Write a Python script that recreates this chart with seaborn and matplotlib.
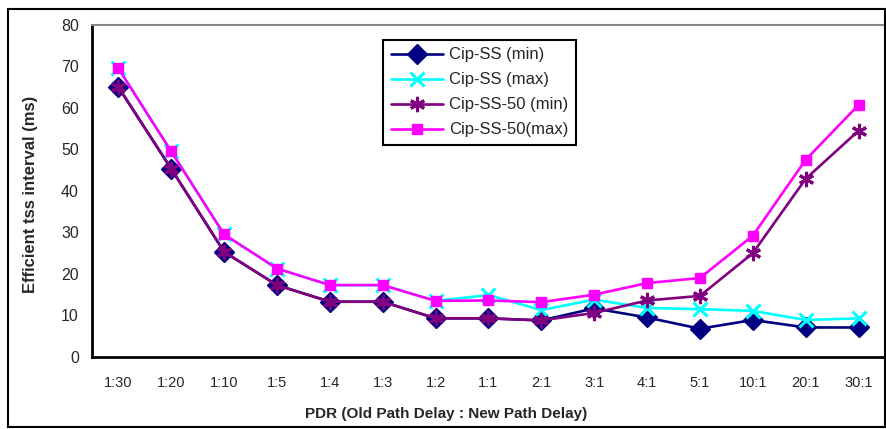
import pandas as pd
import matplotlib.pyplot as plt
import seaborn as sns
from matplotlib.patches import Rectangle

# Chart data
ratios = ["1:30", "1:20", "1:10", "1:5", "1:4", "1:3", "1:2", "1:1",
          "2:1", "3:1", "4:1", "5:1", "10:1", "20:1", "30:1"]
cip_ss_min = [65, 45.3, 25.3, 17.3, 13.3, 13.3, 9.3, 9.3, 8.8, 11.7, 9.5, 6.8, 8.9, 7.1, 7.1]
cip_ss_max = [69.5, 49.5, 29.5, 21.3, 17.3, 17.3, 13.5, 14.9, 11.3, 13.8, 11.8, 11.5, 11.1, 8.9, 9.3]
cip_ss50_min = [65, 45.3, 25.3, 17.3, 13.3, 13.3, 9.3, 9.3, 8.8, 10.6, 13.6, 14.7, 25, 42.9, 54.5]
cip_ss50_max = [69.5, 49.5, 29.5, 21.3, 17.3, 17.3, 13.5, 13.6, 13.2, 15.0, 17.8, 19.0, 29.2, 47.5, 60.7]

series = {
    "Cip-SS (min)": cip_ss_min,
    "Cip-SS (max)": cip_ss_max,
    "Cip-SS-50 (min)": cip_ss50_min,
    "Cip-SS-50(max)": cip_ss50_max,
}
colors = {"Cip-SS (min)": "#000080", "Cip-SS (max)": "#00FFFF",
          "Cip-SS-50 (min)": "#800080", "Cip-SS-50(max)": "#FF00FF"}
markers = {"Cip-SS (min)": "D", "Cip-SS (max)": "x",
           "Cip-SS-50 (min)": (6, 2, 0), "Cip-SS-50(max)": "s"}
msizes = {"Cip-SS (min)": 10, "Cip-SS (max)": 10,
          "Cip-SS-50 (min)": 11, "Cip-SS-50(max)": 7}

rows = []
for name, vals in series.items():
    for i, v in enumerate(vals):
        rows.append({"pos": i, "ratio": ratios[i], "value": v, "series": name})
df = pd.DataFrame(rows)

sns.set_style("white")
plt.rcParams["font.family"] = ["Liberation Sans", "DejaVu Sans"]

fig = plt.figure(figsize=(8.87, 4.29), dpi=100)
ax = fig.add_axes([0.1037, 0.168, 0.894, 0.774])

for name in series:
    sub = df[df["series"] == name]
    sns.lineplot(data=sub, x="pos", y="value", ax=ax, color=colors[name],
                 marker=markers[name], markersize=msizes[name],
                 markeredgecolor=colors[name], markerfacecolor=colors[name],
                 markeredgewidth=2.2 if name in ("Cip-SS (max)", "Cip-SS-50 (min)") else 1,
                 linewidth=1.9, label=name)

ax.set_xlim(-0.5, len(ratios) - 0.5)
ax.set_ylim(0, 80)
ax.set_yticks(range(0, 81, 10))
ax.set_xticks(range(len(ratios)))
ax.set_xticklabels(ratios, fontsize=10.5, family=["Liberation Sans Narrow", "Liberation Sans"])
ax.set_xticks([i - 0.5 for i in range(len(ratios) + 1)], minor=True)
ax.tick_params(axis="x", which="major", length=0, pad=14)
ax.tick_params(axis="x", which="minor", length=5, width=1.2, direction="inout", color="black")
ax.tick_params(axis="y", length=6, width=1.2, direction="out", color="black", labelsize=11.5)

for s in ("left", "bottom"):
    ax.spines[s].set_color("black")
    ax.spines[s].set_linewidth(2)
ax.spines["top"].set_color("#888888")
ax.spines["top"].set_linewidth(1.5)
ax.spines["right"].set_visible(False)

ax.set_xlabel("PDR (Old Path Delay : New Path Delay)", fontsize=11, fontweight="bold", labelpad=12)
ax.xaxis.set_label_coords(0.446, -0.15)
ax.set_ylabel("Efficient tss interval (ms)", fontsize=12, fontweight="bold", labelpad=10)
ax.yaxis.set_label_coords(-0.068, 0.49)

leg = ax.legend(loc="upper left", bbox_to_anchor=(0.357, 0.98), fontsize=12,
                frameon=True, fancybox=False, framealpha=1, edgecolor="black",
                borderpad=0.45, labelspacing=0.6, handlelength=3.1, handletextpad=0.4)
leg.get_frame().set_linewidth(1.5)

# outer chart border
fig.patches.append(Rectangle((0.009, 0.005), 0.989, 0.975, transform=fig.transFigure,
                             fill=False, edgecolor="black", linewidth=1.5))

plt.savefig("out.png", dpi=100)
plt.close()
